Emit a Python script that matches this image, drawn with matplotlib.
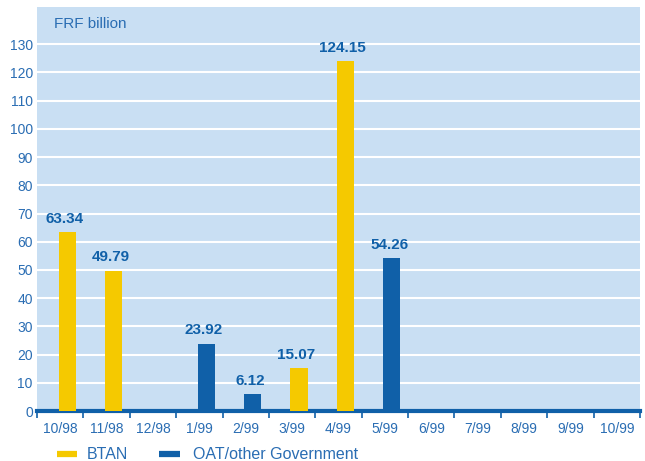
import matplotlib
matplotlib.use("Agg")
import matplotlib.pyplot as plt
from matplotlib.lines import Line2D
import numpy as np

categories = ["10/98", "11/98", "12/98", "1/99", "2/99", "3/99", "4/99",
              "5/99", "6/99", "7/99", "8/99", "9/99", "10/99"]
btan = [63.34, 49.79, 0, 0, 0, 15.07, 124.15, 0, 0, 0, 0, 0, 0]
oat = [0, 0, 0, 23.92, 6.12, 0, 0, 54.26, 0, 0, 0, 0, 0]
yticks = list(range(0, 140, 10))
series_names = ["BTAN", "OAT/other Government"]

BG = "#C9DFF3"
YEL = "#F5C900"
BLU = "#1060A8"
TXT = "#2A6DB3"
plt.rcParams["font.family"] = ["Liberation Sans", "DejaVu Sans"]

fig = plt.figure(figsize=(6.45, 4.61), dpi=100)
ax = fig.add_axes([37/645, 1-411/461, 603/645, 404/461])
ax.set_facecolor(BG)
x = np.arange(len(categories))
off = 0.15
w = 0.37
for vals, col in ((btan, YEL), (oat, BLU)):
    for xi, v in zip(x, vals):
        if v > 0:
            ax.bar(xi + off, v, width=w, color=col, zorder=3)
            ax.text(xi + off * 0.6, v + 2.2, f"{v:.2f}", ha="center", va="bottom",
                    fontsize=11, fontweight="bold", color=BLU, zorder=4)

ax.set_xlim(-0.5, len(categories) - 0.5)
ax.set_ylim(0, 143.2)
ax.set_yticks(yticks)
ax.set_yticklabels([str(t) for t in yticks], fontsize=10, color=TXT)
ax.yaxis.grid(True, color="white", linewidth=1.5, zorder=1)
ax.set_axisbelow(True)
ax.tick_params(axis="y", length=0, pad=3)
ax.set_xticks(x)
ax.set_xticklabels(categories, fontsize=10, color=TXT)
ax.tick_params(axis="x", which="major", length=0, pad=8)
ax.set_xticks(np.arange(-0.5, len(categories), 1), minor=True)
ax.tick_params(axis="x", which="minor", length=5, width=1.2, color=BLU, direction="out")
for s in ["top", "right", "left"]:
    ax.spines[s].set_visible(False)
ax.spines["bottom"].set_color(BLU)
ax.spines["bottom"].set_linewidth(3)

ax.text(0.028, 0.975, "FRF billion", transform=ax.transAxes, ha="left", va="top",
        fontsize=11, color=TXT)

ly = 1 - 454/461
for (x0, x1, tx), col, name in zip(((57, 77, 87), (159, 180, 193)), (YEL, BLU), series_names):
    fig.add_artist(Line2D([x0/645, x1/645], [ly, ly], color=col, linewidth=4.5,
                          solid_capstyle="butt"))
    fig.text(tx/645, ly, name, ha="left", va="center", fontsize=11.5, color=TXT)

fig.savefig("out.png", dpi=100)
